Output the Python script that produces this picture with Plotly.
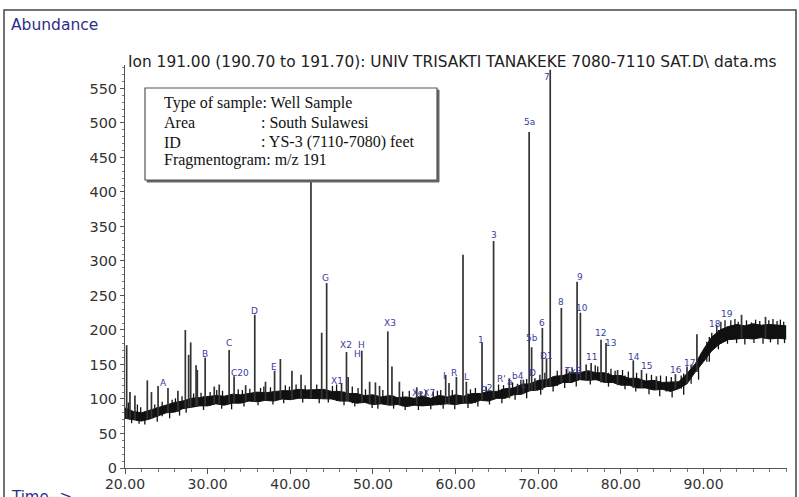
import plotly.graph_objects as go

# ---------------- data ----------------
times = list(range(20, 101))
band_hi = [87, 82, 80, 84, 88, 91, 95, 97, 101, 102,
           104, 105, 104, 107, 106, 108, 110, 109, 111, 112,
           112, 114, 113, 113, 114, 111, 111, 108, 108, 105,
           106, 103, 105, 102, 103, 101, 104, 101, 105, 103,
           106, 104, 108, 108, 111, 111, 115, 116, 121, 122,
           127, 128, 133, 134, 138, 138, 141, 138, 138, 134,
           134, 130, 130, 126, 127, 124, 125, 125, 137, 151,
           172, 190, 200, 205, 208, 206, 209, 207, 208, 207, 206]
band_lo = [72, 70, 68, 71, 75, 80, 81, 86, 88, 90,
           90, 93, 91, 94, 94, 97, 96, 98, 97, 100,
           99, 101, 101, 101, 100, 100, 97, 97, 94, 95,
           92, 93, 91, 92, 89, 91, 90, 91, 91, 93,
           92, 94, 94, 98, 97, 101, 101, 106, 107, 112,
           113, 118, 119, 124, 124, 128, 127, 128, 124, 124,
           120, 120, 116, 116, 113, 114, 111, 115, 122, 139,
           154, 170, 180, 186, 187, 188, 187, 189, 187, 188, 187]

# small noise excursions above / below the band
noise_up_t = [20.4, 21.5, 21.9, 23.6, 24.5, 25.7, 26.1, 26.9, 28.3, 29.2, 30.3, 31.1, 31.8,
              33.7, 34.2, 35.1, 36.4, 36.8, 37.6, 39.4, 39.9, 40.7, 41.8, 43.2, 45.1, 45.6,
              47.5, 48.2, 49.1, 51.2, 53.6, 54.4, 55.8, 56.4, 57.3, 57.8, 58.2, 59.6, 61.8,
              62.4, 63.7, 65.2, 65.8, 66.9, 67.9, 68.6, 70.2, 70.8, 72.3, 73.4, 74.1, 76.9,
              77.2, 78.8, 79.3, 80.2, 80.9, 81.9, 83.1, 83.7, 84.8, 85.5, 86.1, 87.3, 88.5,
              89.7, 90.4, 91.0, 91.6, 92.1, 92.6, 93.3, 93.8, 94.2, 95.2, 95.8, 96.3, 96.8,
              97.9, 98.4, 98.9, 99.3, 99.7]
noise_up_v = [95, 92, 88, 92, 96, 99, 101, 104, 108, 109, 110, 113, 112,
              114, 113, 115, 116, 118, 117, 120, 118, 121, 120, 121, 119, 121,
              118, 116, 114, 113, 111, 112, 110, 113, 111, 112, 113, 113, 114,
              116, 118, 121, 120, 124, 128, 129, 135, 138, 141, 144, 146, 149,
              147, 144, 141, 142, 140, 138, 137, 135, 134, 133, 132, 134, 150,
              166, 183, 196, 207, 212, 214, 214, 216, 212, 214, 211, 215, 213,
              214, 216, 213, 215, 212]
noise_dn_t = [20.8, 21.7, 22.4, 23.9, 25.4, 26.6, 27.4, 29.5, 31.7, 32.9, 34.4, 36.1, 37.9,
              39.2, 41.5, 43.5, 44.6, 46.5, 47.8, 49.9, 50.6, 52.5, 53.9, 55.5, 57.0, 58.5,
              59.9, 61.5, 62.7, 64.1, 65.6, 67.2, 68.6, 70.3, 71.8, 73.2, 74.6, 76.3, 78.5,
              80.5, 81.8, 83.4, 84.7, 86.2, 87.6, 89.4, 90.7, 91.8, 92.9, 94.0, 95.0, 96.1,
              97.2, 98.1, 99.0, 99.8]
noise_dn_v = [65, 64, 63, 67, 72, 76, 80, 84, 86, 85, 89, 91, 92,
              94, 95, 94, 95, 91, 89, 87, 86, 86, 84, 84, 85, 86,
              85, 87, 89, 92, 94, 99, 101, 106, 111, 116, 118, 121, 118,
              114, 111, 107, 104, 102, 106, 128, 154, 172, 180, 181, 179, 181,
              180, 182, 179, 181]

peak_t = [20.2, 20.6, 21.2, 22.7, 23.2, 24.0, 25.2, 26.4, 27.3, 27.7, 27.95, 28.6, 28.75,
          29.7, 30.8, 31.4, 32.6, 33.2, 34.6, 35.7, 37.0, 38.1, 38.8, 40.2, 41.3, 42.5,
          43.8, 44.4, 46.2, 46.8, 47.0, 48.65, 49.6, 50.3, 50.8, 51.8, 52.3, 53.2, 55.3,
          58.8, 59.2, 60.1, 60.9, 61.3, 63.2, 64.6, 66.5, 67.5, 68.2, 68.9, 69.2, 69.6,
          70.5, 71.0, 71.45, 72.8, 73.8, 74.7, 75.1, 75.8, 76.4, 77.6, 78.2, 79.6, 81.5,
          82.5, 84.3, 86.6, 88.0, 89.2, 94.6, 97.5]
peak_v = [178, 110, 105, 127, 110, 119, 116, 112, 200, 164, 182, 149, 142,
          160, 118, 121, 171, 133, 120, 222, 125, 141, 158, 141, 135, 470,
          196, 268, 123, 168, 132, 170, 125, 124, 119, 198, 147, 125, 117,
          135, 123, 132, 309, 125, 181, 329, 130, 122, 128, 487, 175, 130,
          203, 159, 577, 232, 140, 270, 225, 150, 152, 186, 181, 142, 156,
          142, 133, 136, 147, 194, 222, 219]

lab_text = ["A", "B", "C", "C20", "D", "E", "G", "X1", "X2", "H", "H", "X3", "XeX7", "I",
            "R", "L", "1", "b2", "3", "R'", "a", "b4", "c", "5a", "5b", "D", "6", "D1",
            "7", "8", "9", "10", "TxB", "11", "12", "13", "14", "15", "16", "17", "18", "19"]
lab_t = [24.7, 29.7, 32.6, 33.9, 35.7, 38.0, 44.3, 45.7, 46.8, 48.6, 48.1, 52.1, 56.1, 58.7,
         59.8, 61.3, 63.1, 63.7, 64.6, 65.6, 66.6, 67.6, 68.2, 69.0, 69.2, 69.3, 70.5, 71.0,
         71.1, 72.7, 75.0, 75.3, 74.2, 76.5, 77.5, 78.7, 81.6, 83.1, 86.7, 88.3, 91.4, 92.8]
lab_v = [123, 165, 181, 138, 228, 146, 275, 126, 178, 178, 165, 210, 108, 133,
         138, 132, 186, 116, 338, 129, 125, 133, 120, 501, 188, 138, 210, 162,
         567, 241, 277, 232, 141, 161, 195, 181, 161, 148, 142, 152, 209, 223]

y_ticks = [0, 50, 100, 150, 200, 250, 300, 350, 400, 450, 500, 550]
x_ticks = [20, 30, 40, 50, 60, 70, 80, 90]
x_tick_text = ["20.00", "30.00", "40.00", "50.00", "60.00", "70.00", "80.00", "90.00"]

title_text = "Ion 191.00 (190.70 to 191.70): UNIV TRISAKTI TANAKEKE 7080-7110 SAT.D\\ data.ms"
info_rows = [("Type of sample: Well Sample", ""),
             ("Area", ": South Sulawesi"),
             ("ID", ": YS-3 (7110-7080) feet"),
             ("Fragmentogram: m/z 191", "")]

SANS = "DejaVu Sans, Verdana"
SERIF = "Liberation Serif, Times New Roman"

# ---------------- figure ----------------
fig = go.Figure()

# noisy baseline band
fig.add_trace(go.Scatter(x=times, y=band_lo, mode="lines",
                         line=dict(color="#111111", width=1), showlegend=False, hoverinfo="skip"))
fig.add_trace(go.Scatter(x=times, y=band_hi, mode="lines", fill="tonexty",
                         fillcolor="#111111", line=dict(color="#111111", width=1),
                         showlegend=False, hoverinfo="skip"))

# noise excursions
nx, ny = [], []
for t, v in zip(noise_up_t, noise_up_v):
    i = times.index(int(round(t)))
    nx += [t, t, None]
    ny += [band_lo[i], v, None]
for t, v in zip(noise_dn_t, noise_dn_v):
    i = times.index(int(round(t)))
    nx += [t, t, None]
    ny += [band_hi[i], v, None]
fig.add_trace(go.Scatter(x=nx, y=ny, mode="lines", line=dict(color="#111111", width=1.3),
                         showlegend=False, hoverinfo="skip"))

# peaks as vertical spikes from the band
px, py = [], []
for t, v in zip(peak_t, peak_v):
    base = band_lo[times.index(int(round(t)))]
    px += [t, t, None]
    py += [base, v, None]
fig.add_trace(go.Scatter(x=px, y=py, mode="lines", line=dict(color="#333333", width=1.7),
                         showlegend=False, hoverinfo="skip"))

# peak labels
for s, t, v in zip(lab_text, lab_t, lab_v):
    fig.add_annotation(x=t, y=v, text=s, showarrow=False, xanchor="center", yanchor="middle",
                       font=dict(family=SANS, size=9, color="#3b3b9e"))

W, H = 799, 497
L, R, T, B = 125, 12, 65, 29
pw, ph = W - L - R, H - T - B


def pxx(p):
    return (p - L) / pw


def pxy(p):
    return (H - B - p) / ph


# title and corner texts
fig.add_annotation(xref="paper", yref="paper", x=pxx(126), y=pxy(62), xanchor="left",
                   yanchor="middle", text=title_text, showarrow=False,
                   font=dict(family=SANS, size=15.4, color="#222222"))
fig.add_annotation(xref="paper", yref="paper", x=pxx(9), y=pxy(25), xanchor="left",
                   yanchor="middle", text="Abundance", showarrow=False,
                   font=dict(family=SANS, size=15.5, color="#2d2d8c"))
fig.add_annotation(xref="paper", yref="paper", x=pxx(9), y=pxy(497), xanchor="left",
                   yanchor="middle", text="Time-->", showarrow=False,
                   font=dict(family=SANS, size=15, color="#2d2d8c"))

# outer frame
fig.add_shape(type="rect", xref="paper", yref="paper", x0=pxx(4), x1=pxx(796), y0=pxy(520),
              y1=pxy(10), line=dict(color="#444444", width=1.5), fillcolor="rgba(0,0,0,0)",
              layer="above")

# info box with shadow
fig.add_shape(type="rect", xref="paper", yref="paper", x0=pxx(147), x1=pxx(439), y0=pxy(182),
              y1=pxy(90), line=dict(color="#666666", width=1), fillcolor="#666666", layer="above")
fig.add_shape(type="rect", xref="paper", yref="paper", x0=pxx(145), x1=pxx(437), y0=pxy(180),
              y1=pxy(88), line=dict(color="#555555", width=1.2), fillcolor="white", layer="above")
row_y = [103, 122, 142, 160]
for (a, b), yy in zip(info_rows, row_y):
    fig.add_annotation(xref="paper", yref="paper", x=pxx(162), y=pxy(yy), xanchor="left",
                       yanchor="middle", text=a, showarrow=False,
                       font=dict(family=SERIF, size=16, color="#111111"))
    if b:
        fig.add_annotation(xref="paper", yref="paper", x=pxx(259), y=pxy(yy), xanchor="left",
                           yanchor="middle", text=b, showarrow=False,
                           font=dict(family=SERIF, size=16, color="#111111"))

fig.update_layout(
    width=W, height=H, margin=dict(l=L, r=R, t=T, b=B, autoexpand=False),
    paper_bgcolor="white", plot_bgcolor="white", showlegend=False,
    xaxis=dict(range=[20, 100.1], tickvals=x_ticks, ticktext=x_tick_text, showgrid=False,
               zeroline=False, showline=True, linecolor="#555555", linewidth=1,
               automargin=False, ticklabelstandoff=-2,
               ticks="outside", ticklen=5, tickcolor="#555555",
               minor=dict(dtick=2, ticks="outside", ticklen=3, tickcolor="#777777"),
               tickfont=dict(family=SANS, size=14, color="#333333")),
    yaxis=dict(range=[0, 584], tickvals=y_ticks, showgrid=False, zeroline=False,
               showline=True, linecolor="#555555", linewidth=1,
               automargin=False,
               ticks="outside", ticklen=4, tickcolor="#555555",
               minor=dict(dtick=10, ticks="outside", ticklen=2, tickcolor="#777777"),
               tickfont=dict(family=SANS, size=14.5, color="#333333")),
)

fig.write_html("out.html")
